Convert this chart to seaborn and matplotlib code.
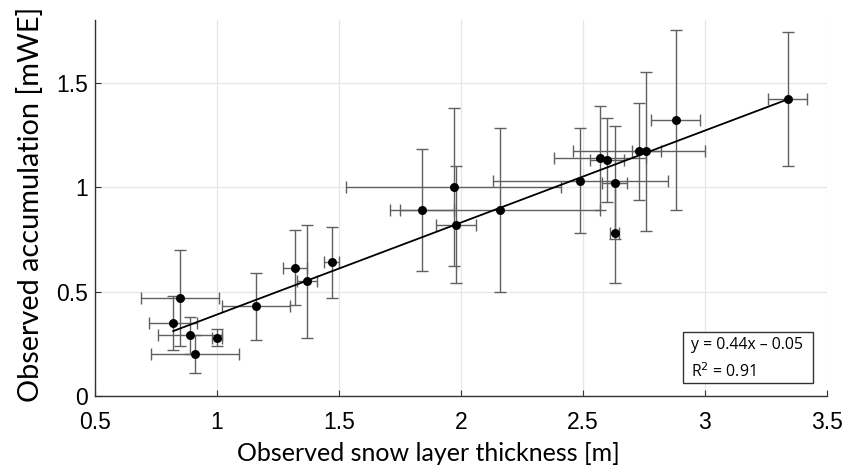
import matplotlib
matplotlib.use("Agg")
import matplotlib.pyplot as plt
from matplotlib.patches import Rectangle
import seaborn as sns
import numpy as np
import pandas as pd

# Data
thickness = [0.82, 0.85, 0.89, 1.00, 0.91, 1.16, 1.32, 1.37, 1.47, 1.84, 1.97,
             1.98, 2.16, 2.49, 2.57, 2.60, 2.63, 2.63, 2.73, 2.76, 2.88, 3.34]
accumulation = [0.35, 0.47, 0.29, 0.28, 0.20, 0.43, 0.615, 0.55, 0.64, 0.89, 1.00,
                0.82, 0.89, 1.03, 1.14, 1.13, 1.02, 0.78, 1.17, 1.17, 1.32, 1.42]
thickness_err = [0.10, 0.16, 0.13, 0.02, 0.18, 0.14, 0.05, 0.04, 0.03, 0.13, 0.44,
                 0.08, 0.41, 0.36, 0.19, 0.07, 0.05, 0.02, 0.27, 0.06, 0.10, 0.08]
accumulation_err = [0.13, 0.23, 0.09, 0.04, 0.09, 0.16, 0.18, 0.27, 0.17, 0.29, 0.38,
                    0.28, 0.39, 0.25, 0.25, 0.20, 0.27, 0.24, 0.23, 0.38, 0.43, 0.32]
fit_slope = 0.44
fit_intercept = -0.05
fit_text = ["y = 0.44x \u2013 0.05", "R$^2$ = 0.91"]
x_ticks = [0.5, 1, 1.5, 2, 2.5, 3, 3.5]
x_ticklabels = ["0.5", "1", "1.5", "2", "2.5", "3", "3.5"]
y_ticks = [0, 0.5, 1, 1.5]
y_ticklabels = ["0", "0.5", "1", "1.5"]

df = pd.DataFrame({"x": thickness, "y": accumulation,
                   "xerr": thickness_err, "yerr": accumulation_err})

sns.set_theme(style="whitegrid")
plt.rcParams["font.family"] = ["Liberation Sans", "DejaVu Sans"]

fig = plt.figure(figsize=(8.48, 4.71), dpi=100)
ax = fig.add_axes([0.112, 0.159, 0.863, 0.799])

ax.errorbar(df["x"], df["y"], xerr=df["xerr"], yerr=df["yerr"], fmt="none",
            ecolor="#606060", elinewidth=1.0, capsize=4, capthick=1.0, zorder=2)

fit_x = np.array([min(thickness), max(thickness)])
fit_df = pd.DataFrame({"x": fit_x, "y": fit_slope * fit_x + fit_intercept})
sns.lineplot(data=fit_df, x="x", y="y", ax=ax, color="black", linewidth=1.3, zorder=3)

sns.scatterplot(data=df, x="x", y="y", ax=ax, color="black", s=42,
                edgecolor="black", linewidth=0, zorder=4)

ax.set_xlim(0.5, 3.5)
ax.set_ylim(0, 1.8)
ax.set_xticks(x_ticks)
ax.set_xticklabels(x_ticklabels)
ax.set_yticks(y_ticks)
ax.set_yticklabels(y_ticklabels)

ax.grid(True, color="#e6e6e6", linewidth=0.9)
for side in ["top", "right"]:
    ax.spines[side].set_visible(False)
for side in ["left", "bottom"]:
    ax.spines[side].set_visible(True)
    ax.spines[side].set_color("#333333")
    ax.spines[side].set_linewidth(1.0)

ax.tick_params(axis="both", which="both", direction="in", length=4, width=0.8,
               color="#333333", labelsize=16.5, labelcolor="black",
               bottom=True, left=True)
ax.tick_params(axis="x", pad=10.5)
ax.tick_params(axis="y", pad=5)

ax.set_xlabel("Observed snow layer thickness [m]", family=["Lato", "DejaVu Sans"],
              fontsize=18, color="black")
ax.set_ylabel("Observed accumulation [mWE]", family=["Lato", "DejaVu Sans"],
              fontsize=20.8, color="black")
ax.xaxis.set_label_coords(0.455, -0.122)
ax.yaxis.set_label_coords(-0.070, 0.51)

ax.add_patch(Rectangle((0.803, 0.035), 0.178, 0.135, transform=ax.transAxes,
                       facecolor="white", edgecolor="#333333", linewidth=1.0,
                       zorder=5))
ax.text(0.814, 0.135, fit_text[0], transform=ax.transAxes, ha="left", va="center",
        fontsize=11.4, family=["Open Sans", "DejaVu Sans"], color="black", zorder=6)
ax.text(0.814, 0.066, fit_text[1], transform=ax.transAxes, ha="left", va="center",
        fontsize=11.4, family=["Open Sans", "DejaVu Sans"], color="black", zorder=6)

fig.savefig("out.png", dpi=100, facecolor="white")
